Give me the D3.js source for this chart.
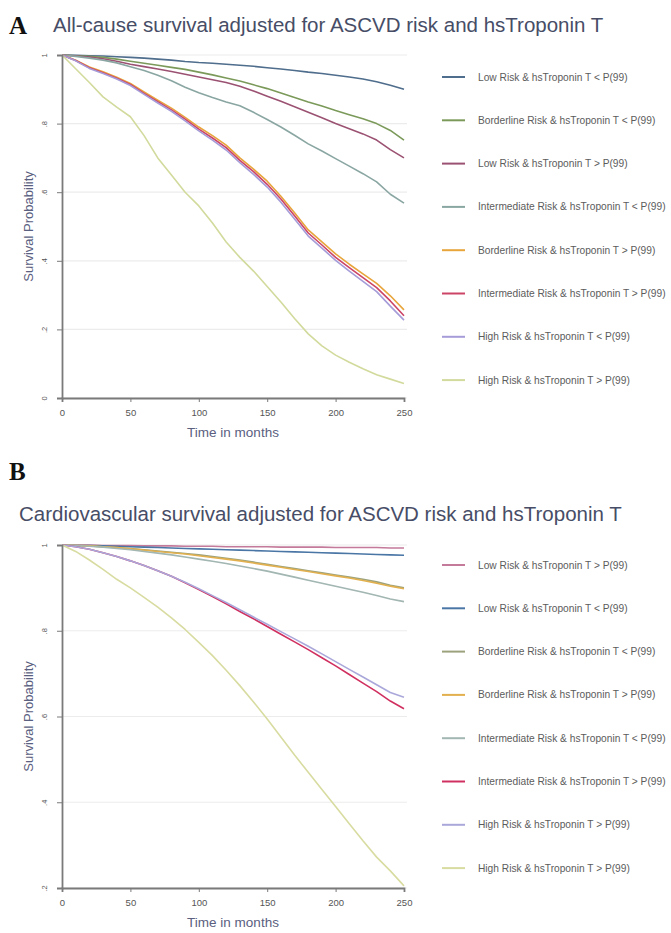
<!DOCTYPE html>
<html>
<head>
<meta charset="utf-8">
<script src="https://cdn.jsdelivr.net/npm/d3@7"></script>
<style>
  body { margin: 0; background: #fff; }
  svg { display: block; }
</style>
</head>
<body>
<svg id="chart" width="671" height="933"></svg>
<script>
// ---------- DATA ----------
const months = [0,10,20,30,40,50,60,70,80,90,100,110,120,130,140,150,160,170,180,190,200,210,220,230,240,250];
const xTicks = [0,50,100,150,200,250];

// Panel A: all-cause survival
const yTicksA = [0,0.2,0.4,0.6,0.8,1];
const yTickLabelsA = ["0",".2",".4",".6",".8","1"];
const labelsA = [
  "Low Risk & hsTroponin T < P(99)",
  "Borderline Risk & hsTroponin T < P(99)",
  "Low Risk & hsTroponin T > P(99)",
  "Intermediate Risk & hsTroponin T < P(99)",
  "Borderline Risk & hsTroponin T > P(99)",
  "Intermediate Risk & hsTroponin T > P(99)",
  "High Risk & hsTroponin T < P(99)",
  "High Risk & hsTroponin T > P(99)"
];
const colorsA = ["#4f6d8c","#7b9a5a","#9b5272","#8aa6a2","#e8a53c","#cc4466","#a59cd8","#d2da9c"];
const lowLowA   = [1,.999,.998,.997,.995,.993,.991,.988,.985,.981,.978,.976,.973,.970,.967,.963,.959,.955,.950,.946,.941,.936,.930,.922,.912,.900];
const bordLowA  = [1,.998,.996,.993,.988,.982,.976,.970,.964,.958,.950,.942,.933,.924,.913,.902,.889,.876,.863,.851,.838,.826,.814,.800,.780,.752];
const lowHighA  = [1,.997,.994,.989,.982,.973,.966,.959,.952,.944,.936,.928,.920,.909,.895,.880,.865,.849,.833,.817,.800,.785,.770,.752,.724,.700];
const intLowA   = [1,.996,.991,.985,.977,.966,.955,.941,.925,.906,.890,.876,.863,.852,.833,.812,.790,.766,.741,.720,.698,.676,.654,.630,.594,.568];
const bordHighA = [1,.985,.965,.951,.935,.917,.892,.868,.845,.818,.790,.765,.737,.700,.667,.632,.588,.540,.490,.455,.420,.390,.362,.334,.298,.257];
const intHighA  = [1,.984,.963,.948,.932,.914,.888,.864,.840,.813,.784,.758,.730,.693,.660,.623,.580,.531,.481,.446,.410,.380,.351,.322,.283,.240];
const highLowA  = [1,.983,.961,.946,.930,.911,.885,.860,.836,.808,.779,.752,.723,.686,.652,.615,.571,.522,.472,.437,.401,.370,.340,.310,.268,.227];
const highHighA = [1,.960,.920,.878,.848,.820,.765,.700,.650,.600,.560,.510,.455,.410,.370,.325,.280,.232,.187,.152,.125,.104,.085,.068,.055,.042];

// Panel B: cardiovascular survival
const yTicksB = [0.2,0.4,0.6,0.8,1];
const yTickLabelsB = [".2",".4",".6",".8","1"];
const labelsB = [
  "Low Risk & hsTroponin T > P(99)",
  "Low Risk & hsTroponin T < P(99)",
  "Borderline Risk & hsTroponin T < P(99)",
  "Borderline Risk & hsTroponin T > P(99)",
  "Intermediate Risk & hsTroponin T < P(99)",
  "Intermediate Risk & hsTroponin T > P(99)",
  "High Risk & hsTroponin T > P(99)",
  "High Risk & hsTroponin T > P(99)"
];
const colorsB = ["#c47a9a","#4a76a6","#9ca27c","#e2b04e","#a2b6b2","#d03060","#aaa8da","#d8dca0"];
const lowHighB  = [1,1,1,.999,.999,.999,.998,.998,.998,.997,.997,.997,.996,.996,.996,.996,.995,.995,.995,.995,.994,.994,.994,.994,.993,.993];
const lowLowB   = [1,.999,.999,.998,.997,.996,.995,.994,.993,.992,.991,.990,.989,.988,.987,.986,.985,.984,.983,.982,.981,.980,.979,.978,.977,.976];
const bordLowB  = [1,.999,.998,.996,.994,.992,.989,.986,.983,.980,.977,.973,.969,.965,.960,.955,.950,.945,.940,.935,.930,.925,.920,.914,.906,.900];
const bordHighB = [1,.999,.998,.996,.994,.991,.988,.985,.982,.979,.975,.971,.967,.963,.958,.953,.948,.943,.938,.933,.928,.923,.917,.911,.904,.898];
const intLowB   = [1,.999,.997,.995,.992,.989,.985,.981,.977,.972,.967,.962,.957,.951,.945,.939,.932,.925,.918,.911,.904,.897,.890,.882,.874,.868];
const intHighB  = [1,.996,.990,.982,.973,.963,.952,.940,.927,.912,.896,.880,.863,.845,.828,.810,.792,.774,.756,.737,.718,.698,.678,.658,.636,.618];
const highLowB  = [1,.996,.990,.982,.973,.963,.952,.940,.927,.913,.898,.882,.866,.849,.832,.815,.798,.781,.764,.746,.728,.710,.692,.674,.656,.645];
const highHighB = [1,.985,.965,.943,.920,.900,.878,.855,.830,.803,.773,.742,.708,.672,.634,.594,.552,.510,.470,.430,.390,.350,.310,.272,.240,.205];

const seriesA = [lowLowA,bordLowA,lowHighA,intLowA,bordHighA,intHighA,highLowA,highHighA];
const seriesB = [lowHighB,lowLowB,bordLowB,bordHighB,intLowB,intHighB,highLowB,highHighB];

// ---------- DRAW ----------
const svg = d3.select("#chart");
const FONT = "'Liberation Sans', Arial, Helvetica, sans-serif";

function panel(opt) {
  const g = svg.append("g");
  const x = d3.scaleLinear().domain([0,250]).range([opt.left, opt.right]);
  const y = d3.scaleLinear().domain(opt.yDomain).range([opt.bottom, opt.top]);

  // letter + title
  if (opt.letter) {
    g.append("text").attr("x", 9).attr("y", opt.letterY)
      .attr("font-family", "'Liberation Serif', 'DejaVu Serif', serif")
      .attr("font-weight", "bold").attr("font-size", 25).attr("fill", "#111")
      .text(opt.letter);
  }
  g.append("text").attr("x", opt.titleX).attr("y", opt.titleY)
    .attr("font-family", FONT).attr("font-size", 20.5).attr("fill", "#474d66")
    .text(opt.title);

  // gridlines
  g.selectAll(".grid").data(opt.yTicks).enter().append("line")
    .attr("x1", opt.left).attr("x2", opt.right + 3)
    .attr("y1", d => y(d)).attr("y2", d => y(d))
    .attr("stroke", "#ececec").attr("stroke-width", 1.2);

  // series
  const line = d3.line().x((d,i) => x(months[i])).y(d => y(d));
  opt.series.forEach((s, i) => {
    g.append("path").datum(s).attr("d", line)
      .attr("fill", "none").attr("stroke", opt.colors[i])
      .attr("stroke-width", 1.6).attr("stroke-linejoin", "round");
  });

  // axes
  const yAxis = d3.axisLeft(y).tickValues(opt.yTicks).tickSize(5)
    .tickFormat((d,i) => opt.yTickLabels[i]);
  const ya = g.append("g").attr("transform", `translate(${opt.left},0)`).call(yAxis);
  ya.select(".domain").attr("stroke", "#7a7a7a").attr("stroke-width", 1.8);
  ya.selectAll(".tick line").attr("stroke", "#7a7a7a");
  ya.selectAll(".tick text")
    .attr("font-family", FONT).attr("font-size", 7.5).attr("fill", "#555")
    .attr("transform", "rotate(-90)")
    .attr("x", 0).attr("y", -15).attr("dy", 0)
    .attr("text-anchor", "middle");

  const xAxis = d3.axisBottom(x).tickValues(xTicks).tickSize(4);
  const xa = g.append("g").attr("transform", `translate(0,${opt.bottom})`).call(xAxis);
  xa.select(".domain").attr("stroke", "#7a7a7a").attr("stroke-width", 1.8);
  xa.selectAll(".tick line").attr("stroke", "#7a7a7a");
  xa.selectAll(".tick text").attr("font-family", FONT).attr("font-size", 9.5)
    .attr("fill", "#555").attr("y", 11);

  // axis titles
  g.append("text").attr("transform", `translate(${opt.left - 29},${(opt.top + opt.bottom) / 2}) rotate(-90)`)
    .attr("text-anchor", "middle").attr("font-family", FONT).attr("font-size", 13)
    .attr("fill", "#5a6080").text("Survival Probability");
  g.append("text").attr("x", (opt.left + opt.right) / 2).attr("y", opt.bottom + 39)
    .attr("text-anchor", "middle").attr("font-family", FONT).attr("font-size", 13.5)
    .attr("fill", "#5a6080").text("Time in months");

  // legend
  const lg = g.append("g");
  opt.labels.forEach((lab, i) => {
    const ly = opt.legendTop + i * 43.3;
    lg.append("line").attr("x1", 442).attr("x2", 465).attr("y1", ly).attr("y2", ly)
      .attr("stroke", opt.colors[i]).attr("stroke-width", 2);
    lg.append("text").attr("x", 478).attr("y", ly).attr("dy", "0.35em")
      .attr("font-family", FONT).attr("font-size", 10.2).attr("fill", "#5c5c5c")
      .text(lab);
  });
}

panel({
  letter: "A", letterY: 34, titleX: 53, titleY: 32,
  title: "All-cause survival adjusted for ASCVD risk and hsTroponin T",
  left: 62, right: 404, top: 55, bottom: 398,
  yDomain: [0,1], yTicks: yTicksA, yTickLabels: yTickLabelsA,
  series: seriesA, colors: colorsA, labels: labelsA, legendTop: 77
});
panel({
  letter: "B", letterY: 480, titleX: 19, titleY: 521,
  title: "Cardiovascular survival adjusted for ASCVD risk and hsTroponin T",
  left: 62, right: 404, top: 545, bottom: 888,
  yDomain: [0.2,1], yTicks: yTicksB, yTickLabels: yTickLabelsB,
  series: seriesB, colors: colorsB, labels: labelsB, legendTop: 565
});
</script>
</body>
</html>
